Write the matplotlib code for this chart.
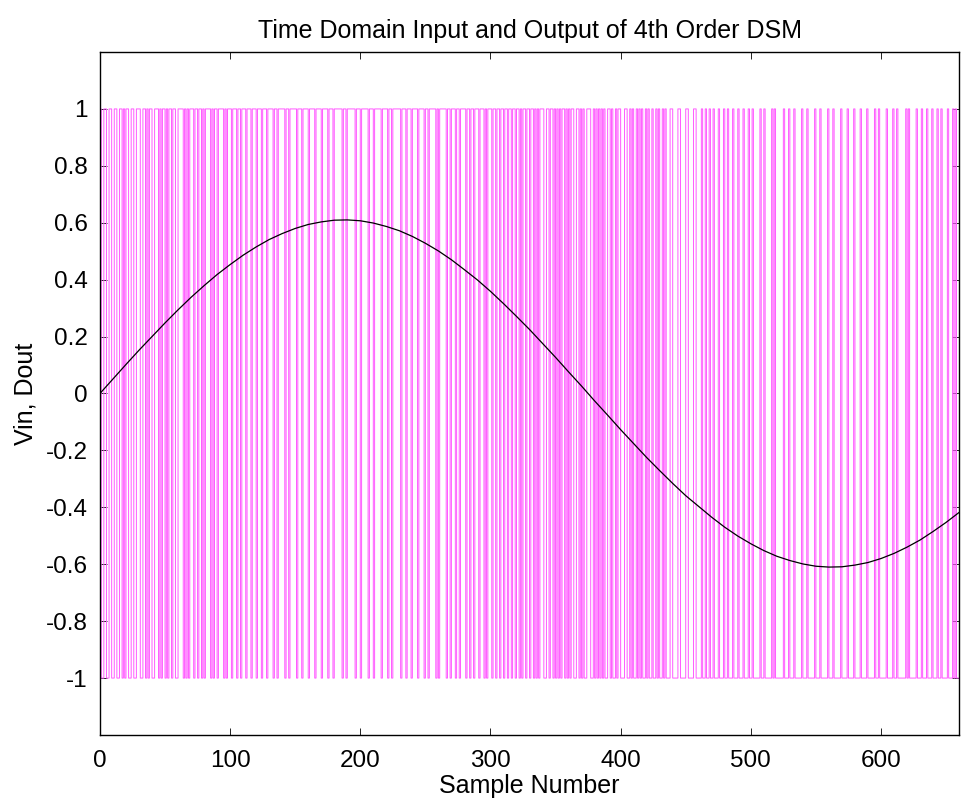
import numpy as np
import matplotlib
matplotlib.use("Agg")
import matplotlib.pyplot as plt

plt.rcParams['font.family'] = ['Liberation Sans', 'DejaVu Sans']

# Input samples (every 10 samples)
sample_n = list(range(0, 661, 10))
vin = [0.000, 0.051, 0.102, 0.152, 0.200, 0.248, 0.294, 0.338, 0.379, 0.418,
       0.453, 0.486, 0.515, 0.541, 0.562, 0.580, 0.594, 0.603, 0.609, 0.610,
       0.607, 0.599, 0.587, 0.572, 0.552, 0.528, 0.501, 0.470, 0.435, 0.399,
       0.359, 0.316, 0.271, 0.225, 0.176, 0.127, 0.076, 0.026, -0.026, -0.076,
       -0.127, -0.176, -0.225, -0.271, -0.316, -0.359, -0.397, -0.435, -0.470, -0.501,
       -0.528, -0.552, -0.572, -0.587, -0.599, -0.607, -0.610, -0.609, -0.603, -0.594,
       -0.580, -0.562, -0.540, -0.515, -0.485, -0.453, -0.418]

title = "Time Domain Input and Output of 4th Order DSM"
xlabel = "Sample Number"
ylabel = "Vin, Dout"
xticks = [0, 100, 200, 300, 400, 500, 600]
yticks = [-1, -0.8, -0.6, -0.4, -0.2, 0, 0.2, 0.4, 0.6, 0.8, 1]
yticklabels = ["-1", "-0.8", "-0.6", "-0.4", "-0.2", "0", "0.2", "0.4", "0.6", "0.8", "1"]

# Delta-sigma output derived from the input (second-order loop, held input)
n_all = np.arange(0, 661)
u = np.repeat(np.array(vin), 10)[:len(n_all)]
i1 = 0.0
i2 = 0.0
y = 0.0
dout = []
for val in u:
    i1 += val - y
    i2 += i1 - y
    y = 1.0 if i2 >= 0 else -1.0
    dout.append(y)
dout = np.array(dout)

fig = plt.figure(figsize=(9.61, 8.09), dpi=100)
ax = fig.add_axes([0.104, 0.0915, 0.894, 0.8442])
ax.step(n_all, dout, where='post', color=(1.0, 0.35, 1.0), lw=0.7)
ax.plot(sample_n, vin, color='black', lw=0.9)

ax.set_xlim(0, 660)
ax.set_ylim(-1.2, 1.2)
ax.set_xticks(xticks)
ax.set_yticks(yticks)
ax.set_yticklabels(yticklabels)
ax.tick_params(direction='in', top=True, right=True, labelsize=17.5, length=5, width=0.6)
ax.tick_params(axis='x', pad=11)
ax.tick_params(axis='y', pad=9)
for s in ax.spines.values():
    s.set_linewidth(1.0)
ax.set_title(title, fontsize=18, pad=10)
ax.set_xlabel(xlabel, fontsize=18, labelpad=1)
ax.set_ylabel(ylabel, fontsize=18, labelpad=6)
fig.savefig("out.png", dpi=100)
